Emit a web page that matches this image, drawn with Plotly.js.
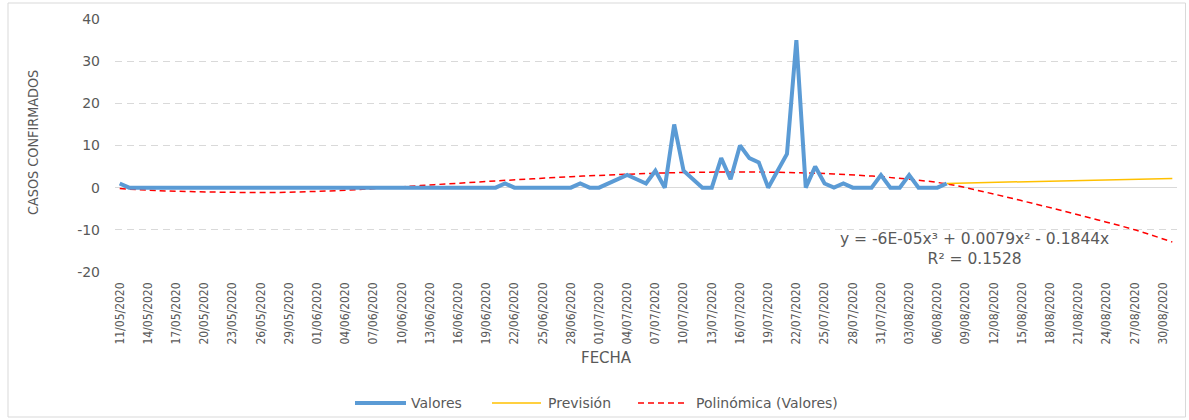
<!DOCTYPE html>
<html>
<head>
<meta charset="utf-8">
<script src="https://cdn.plot.ly/plotly-3.0.1.min.js"></script>
<style>
html,body{margin:0;padding:0;background:#fff;}
#chart{width:1189px;height:420px;}
</style>
</head>
<body>
<div id="chart"></div>
<script>
// ---- data ----
var fechaInicio = '2020-05-11';
// daily confirmed cases from 11/05/2020 to 07/08/2020
var valores = [
  1,0,0,0,0,0,0,0,0,0,
  0,0,0,0,0,0,0,0,0,0,
  0,0,0,0,0,0,0,0,0,0,
  0,0,0,0,0,0,0,0,0,0,
  0,1,0,0,0,0,0,0,0,1,
  0,0,1,2,3,2,1,4,0,15,
  4,2,0,0,7,2,10,7,6,0,
  4,8,35,0,5,1,0,1,0,0,
  0,3,0,0,3,0,0,0,1
];
var prevFechas = ['2020-08-07','2020-08-11','2020-08-15','2020-08-19','2020-08-23','2020-08-27','2020-08-31'];
var prevision  = [1.0, 1.2, 1.4, 1.6, 1.8, 2.0, 2.2];
var polFechas = ['2020-05-11','2020-05-15','2020-05-19','2020-05-23','2020-05-27','2020-05-31',
  '2020-06-04','2020-06-08','2020-06-12','2020-06-16','2020-06-20','2020-06-24','2020-06-28',
  '2020-07-02','2020-07-06','2020-07-10','2020-07-14','2020-07-18','2020-07-22','2020-07-26',
  '2020-07-30','2020-08-03','2020-08-07','2020-08-11','2020-08-15','2020-08-19','2020-08-23',
  '2020-08-27','2020-08-31'];
var polinomica = [-0.2,-0.7,-0.95,-1.1,-1.15,-0.95,
  -0.6,-0.1,0.5,1.05,1.6,2.1,2.6,
  3.0,3.35,3.6,3.7,3.7,3.55,3.25,
  2.75,2.0,0.9,-1.0,-3.1,-5.3,-7.6,
  -10.0,-12.9];
var yTicks = [-20,-10,0,10,20,30,40];
var nombres = ['Valores','Previsión','Polinómica (Valores)'];
var ecuacion = 'y = -6E-05x³ + 0.0079x² - 0.1844x<br>R² = 0.1528';

// dates for the daily series
function isoDay(start, n){
  var d = new Date(start + 'T00:00:00Z');
  d.setUTCDate(d.getUTCDate() + n);
  return d.toISOString().slice(0,10);
}
var valFechas = valores.map(function(v,i){ return isoDay(fechaInicio, i); });

// ---- layout helpers ----
var W = 1189, H = 420, ML = 115, MR = 12, MT = 19, MB = 148;
var PW = W - ML - MR, PH = H - MT - MB;
function px(x){ return (x - ML) / PW; }
function py(y){ return (H - MB - y) / PH; }

var gray = '#595959';
var wide = 'DejaVu Sans, sans-serif';
var narrow = 'DejaVu Sans Condensed, Liberation Sans Narrow, sans-serif';
var cBlue = '#5B9BD5', cOrange = '#FFC000', cRed = '#FF0000';

var traces = [
  {x: polFechas, y: polinomica, type:'scatter', mode:'lines', name: nombres[2],
   line:{color:cRed, width:1.5, dash:'6px,4px', shape:'spline', smoothing:1}},
  {x: prevFechas, y: prevision, type:'scatter', mode:'lines', name: nombres[1],
   line:{color:cOrange, width:1.5}},
  {x: valFechas, y: valores, type:'scatter', mode:'lines', name: nombres[0],
   line:{color:cBlue, width:4, shape:'linear'}}
];

var layout = {
  width: W, height: H,
  margin: {l: ML, r: MR, t: MT, b: MB, pad: 0},
  paper_bgcolor: '#fff', plot_bgcolor: '#fff',
  showlegend: false,
  xaxis: {
    type: 'date',
    range: ['2020-05-10 12:00', '2020-08-31 12:00'],
    tick0: fechaInicio, dtick: 3*86400000,
    tickformat: '%d/%m/%Y', tickangle: -90,
    tickfont: {family: narrow, size: 12, color: gray},
    showgrid: false, zeroline: false, showline: false, ticks: '',
    ticklabelstandoff: 7
  },
  yaxis: {
    range: [-20, 40], tickvals: yTicks, ticktext: yTicks.map(String),
    tickfont: {family: wide, size: 14, color: gray},
    showgrid: true, gridcolor: '#d9d9d9', gridwidth: 1, griddash: '7px,5px',
    zeroline: true, zerolinecolor: '#d9d9d9', zerolinewidth: 1,
    showline: false, ticks: '', ticklabelstandoff: 14
  },
  shapes: [
    {type:'rect', xref:'paper', yref:'paper', x0: px(8), x1: px(1185.5), y0: py(417), y1: py(3),
     line:{color:'#d9d9d9', width:1}, fillcolor:'rgba(0,0,0,0)', layer:'below'},
    {type:'line', xref:'paper', yref:'paper', x0: px(355), x1: px(406), y0: py(403), y1: py(403),
     line:{color:cBlue, width:4}},
    {type:'line', xref:'paper', yref:'paper', x0: px(492), x1: px(541), y0: py(403), y1: py(403),
     line:{color:cOrange, width:1.5}},
    {type:'line', xref:'paper', yref:'paper', x0: px(638), x1: px(685), y0: py(403), y1: py(403),
     line:{color:cRed, width:1.5, dash:'6px,4px'}}
  ],
  annotations: [
    {text:'CASOS CONFIRMADOS', xref:'paper', yref:'paper', x: px(33), y: py(143),
     xanchor:'center', yanchor:'middle', textangle:-90, showarrow:false,
     font:{family: narrow, size: 14.3, color: gray}},
    {text:'FECHA', xref:'paper', yref:'paper', x: px(606), y: py(358),
     xanchor:'center', yanchor:'middle', showarrow:false,
     font:{family: wide, size: 15, color: gray}},
    {text: ecuacion, xref:'paper', yref:'paper', x: px(974), y: py(249),
     xanchor:'center', yanchor:'middle', align:'center', showarrow:false,
     font:{family: wide, size: 15.5, color: gray}},
    {text: nombres[0], xref:'paper', yref:'paper', x: px(409), y: py(403),
     xanchor:'left', yanchor:'middle', showarrow:false, font:{family: wide, size: 14, color: gray}},
    {text: nombres[1], xref:'paper', yref:'paper', x: px(546), y: py(403),
     xanchor:'left', yanchor:'middle', showarrow:false, font:{family: wide, size: 14, color: gray}},
    {text: nombres[2], xref:'paper', yref:'paper', x: px(694), y: py(403),
     xanchor:'left', yanchor:'middle', showarrow:false, font:{family: wide, size: 14, color: gray}}
  ]
};

Plotly.newPlot('chart', traces, layout, {displayModeBar: false, staticPlot: true});
</script>
</body>
</html>
